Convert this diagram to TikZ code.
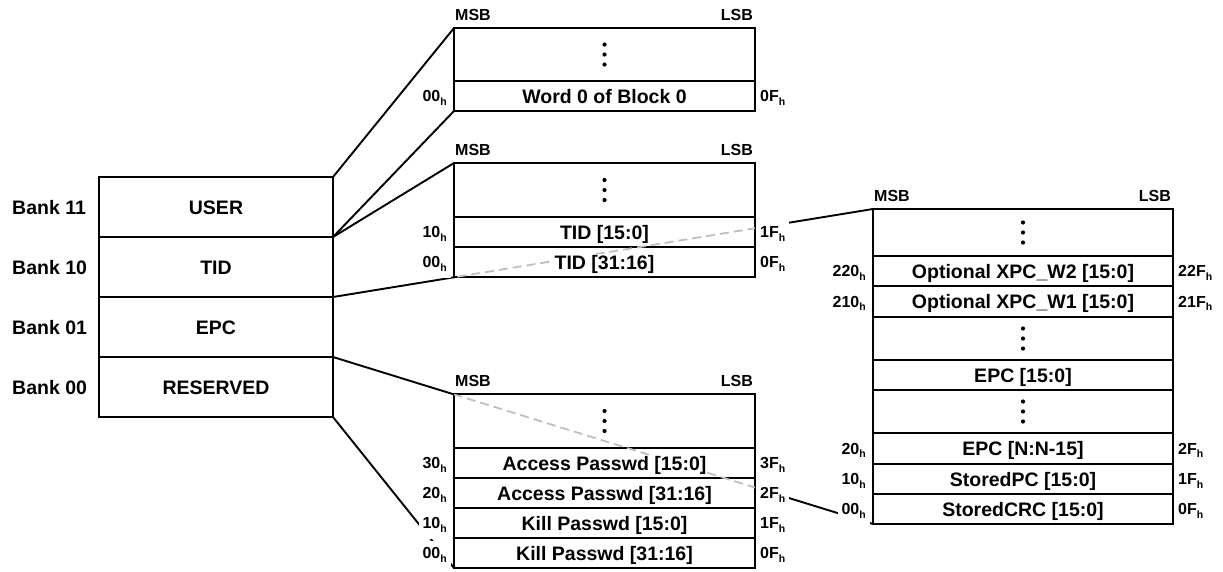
\documentclass[tikz,border=0pt]{standalone}
\usepackage{fontspec}
\setmainfont{Liberation Sans}
\pgfdeclarelayer{bg}
\pgfsetlayers{bg,main}
\newcommand\hsub{\raisebox{-3.5pt}{\fontsize{10.5}{10.5}\selectfont h}}
\begin{document}
\begin{tikzpicture}[x=1pt,y=-1pt,
  rowbox/.style={draw,line width=2.5pt,fill=white,inner sep=0pt,outer sep=0pt,anchor=north west},
  rowtext/.style={font=\bfseries\fontsize{19.5}{19.5}\selectfont,fill=white,inner sep=1pt,text height=14pt,text depth=0pt},
  addr/.style={font=\bfseries\fontsize{16}{16}\selectfont,fill=white,inner xsep=4pt,inner ysep=6.5pt},
  bitlbl/.style={font=\bfseries\fontsize{16}{16}\selectfont,inner sep=0pt},
  banklbl/.style={font=\bfseries\fontsize{19.5}{19.5}\selectfont,inner sep=0pt,anchor=base west},
  conn/.style={line width=1.9pt,black},
  hidden/.style={line width=1.8pt,black!25,dash pattern=on 9pt off 5pt},
  dotmark/.style={fill=black}]
\useasboundingbox (0,0) rectangle (1223,571);
% ---- bank column ----
\node[rowbox,minimum width=234pt,minimum height=60pt] (user) at (99,177) {};
\node[rowbox,minimum width=234pt,minimum height=60pt] (tid) at (99,237) {};
\node[rowbox,minimum width=234pt,minimum height=60pt] (epc) at (99,297) {};
\node[rowbox,minimum width=234pt,minimum height=60pt] (res) at (99,357) {};
\node[rowtext,fill=none] (usert) at (user.center) {USER};
\node[rowtext,fill=none] (tidt) at (tid.center) {TID};
\node[rowtext,fill=none] (epct) at (epc.center) {EPC};
\node[rowtext,fill=none] (rest) at (res.center) {RESERVED};
\node[banklbl] (b11) at (12,214) {Bank 11};
\node[banklbl] (b10) at (12,274) {Bank 10};
\node[banklbl] (b01) at (12,334) {Bank 01};
\node[banklbl] (b00) at (12,394) {Bank 00};
% ---- USER block ----
\node[rowbox,minimum width=301pt,minimum height=53pt] (u0) at (454,28) {};
\node[rowbox,minimum width=301pt,minimum height=30pt] (u1) at (454,81) {};
% ---- TID block ----
\node[rowbox,minimum width=301pt,minimum height=54pt] (t0) at (454,163) {};
\node[rowbox,minimum width=301pt,minimum height=30pt] (t1) at (454,217) {};
\node[rowbox,minimum width=301pt,minimum height=30pt] (t2) at (454,247) {};
% ---- RESERVED block ----
\node[rowbox,minimum width=301pt,minimum height=54pt] (r0) at (454,394) {};
\node[rowbox,minimum width=301pt,minimum height=30pt] (r1) at (454,448) {};
\node[rowbox,minimum width=301pt,minimum height=30pt] (r2) at (454,478) {};
\node[rowbox,minimum width=301pt,minimum height=30pt] (r3) at (454,508) {};
\node[rowbox,minimum width=301pt,minimum height=30pt] (r4) at (454,538) {};
% ---- EPC block ----
\node[rowbox,minimum width=300pt,minimum height=47pt] (e0) at (873,209) {};
\node[rowbox,minimum width=300pt,minimum height=30pt] (e1) at (873,256) {};
\node[rowbox,minimum width=300pt,minimum height=31pt] (e2) at (873,286) {};
\node[rowbox,minimum width=300pt,minimum height=43pt] (e3) at (873,317) {};
\node[rowbox,minimum width=300pt,minimum height=30pt] (e4) at (873,360) {};
\node[rowbox,minimum width=300pt,minimum height=43pt] (e5) at (873,390) {};
\node[rowbox,minimum width=300pt,minimum height=31pt] (e6) at (873,433) {};
\node[rowbox,minimum width=300pt,minimum height=30pt] (e7) at (873,464) {};
\node[rowbox,minimum width=300pt,minimum height=30pt] (e8) at (873,494) {};
% ---- connectors ----
\begin{pgfonlayer}{bg}
\draw[conn] (user.north east) -- (u0.north west);
\draw[conn] (user.south east) -- (u1.south west);
\draw[conn] (user.south east) -- (t0.north west);
\draw[conn] (tid.south east) -- (e0.north west);
\draw[conn] (epc.south east) -- (e8.south west);
\draw[conn] (res.south east) -- (r4.south west);
\end{pgfonlayer}
\begin{scope}
\clip (t0.north west) rectangle (t2.south east);
\draw[hidden] (tid.south east) -- (e0.north west);
\end{scope}
\begin{scope}
\clip (r0.north west) rectangle (r4.south east);
\draw[hidden] (epc.south east) -- (e8.south west);
\end{scope}
% ---- dots ----
\foreach \n in {u0,t0,r0,e0,e3,e5}{
  \foreach \dy in {-10,0,10} \fill[dotmark] (\n.center) ++(0,\dy) circle (2.1pt);
}
% ---- row texts ----
\node[rowtext] (u1t) at (u1.center) {Word 0 of Block 0};
\node[rowtext] (t1t) at (t1.center) {TID [15:0]};
\node[rowtext] (t2t) at (t2.center) {TID [31:16]};
\node[rowtext] (r1t) at (r1.center) {Access Passwd [15:0]};
\node[rowtext] (r2t) at (r2.center) {Access Passwd [31:16]};
\node[rowtext] (r3t) at (r3.center) {Kill Passwd [15:0]};
\node[rowtext] (r4t) at (r4.center) {Kill Passwd [31:16]};
\node[rowtext] (e1t) at (e1.center) {Optional XPC\_W2 [15:0]};
\node[rowtext] (e2t) at (e2.center) {Optional XPC\_W1 [15:0]};
\node[rowtext] (e4t) at (e4.center) {EPC [15:0]};
\node[rowtext] (e6t) at (e6.center) {EPC [N:N-15]};
\node[rowtext] (e7t) at (e7.center) {StoredPC [15:0]};
\node[rowtext] (e8t) at (e8.center) {StoredCRC [15:0]};
% ---- MSB / LSB ----
\foreach \n in {u0,t0,r0,e0}{
  \node[bitlbl,anchor=base west] (\n msb) at ([xshift=1pt,yshift=8pt]\n.north west) {MSB};
  \node[bitlbl,anchor=base east] (\n lsb) at ([xshift=-2pt,yshift=8pt]\n.north east) {LSB};
}
% ---- addresses ----
\foreach \n/\l/\r in {u1/00/0F, t1/10/1F, t2/00/0F, r1/30/3F, r2/20/2F, r3/10/1F, r4/00/0F,
                      e1/220/22F, e2/210/21F, e6/20/2F, e7/10/1F, e8/00/0F}{
  \node[addr,anchor=base east] (\n L) at ([xshift=-3pt,yshift=-5.7pt]\n.west) {\l\hsub};
  \node[addr,anchor=base west] (\n R) at ([xshift=1pt,yshift=-5.7pt]\n.east) {\r\hsub};
}
\end{tikzpicture}
\end{document}
